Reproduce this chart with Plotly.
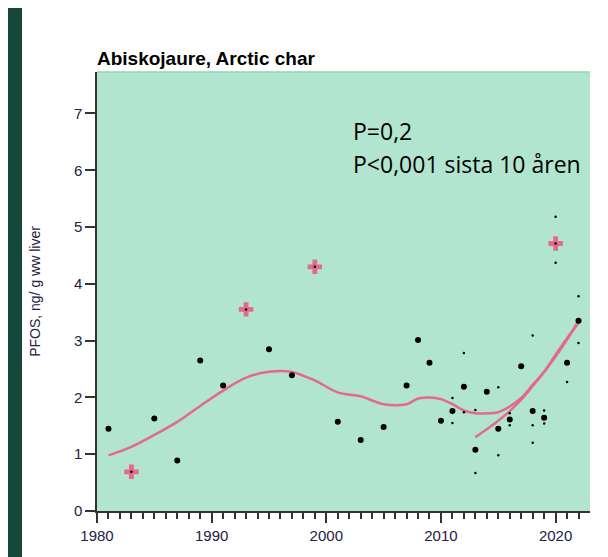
import plotly.graph_objects as go

# Yearly medians (black dots)
years = [1981, 1985, 1987, 1989, 1991, 1995, 1997, 2001, 2003, 2005, 2007, 2008,
         2009, 2010, 2011, 2012, 2013, 2014, 2015, 2016, 2017, 2018, 2019, 2021, 2022]
values = [1.45, 1.63, 0.89, 2.65, 2.21, 2.85, 2.39, 1.57, 1.25, 1.48, 2.21, 3.01,
          2.61, 1.59, 1.76, 2.19, 1.08, 2.10, 1.45, 1.61, 2.55, 1.76, 1.64, 2.61, 3.35]

# Flagged years (pink crosses)
flag_years = [1983, 1993, 1999, 2020]
flag_values = [0.69, 3.55, 4.30, 4.71]

# Small dots (spread within years)
small_years = [2011, 2011, 2012, 2012, 2013, 2013, 2015, 2015, 2016, 2016,
               2018, 2018, 2018, 2019, 2019, 2020, 2020, 2021, 2022, 2022]
small_values = [1.99, 1.55, 2.78, 1.74, 1.78, 0.67, 2.18, 0.98, 1.72, 1.51,
                3.09, 1.51, 1.20, 1.77, 1.54, 5.18, 4.37, 2.27, 2.96, 3.78]

# Smoothed trend (whole period)
smooth_years = [1981, 1983, 1985, 1987, 1989, 1991, 1993, 1995, 1997, 1998, 1999,
                2001, 2003, 2005, 2007, 2008, 2009, 2010, 2011, 2012, 2013, 2014,
                2015, 2016, 2017, 2018, 2019, 2020, 2021, 2022]
smooth_values = [0.98, 1.13, 1.34, 1.57, 1.85, 2.12, 2.35, 2.45, 2.45, 2.38, 2.30,
                 2.09, 2.02, 1.88, 1.88, 1.98, 2.00, 1.97, 1.88, 1.77, 1.72, 1.72,
                 1.74, 1.84, 1.99, 2.22, 2.45, 2.75, 3.04, 3.31]

# Trend for last 10 years
recent_years = [2013, 2014, 2015, 2016, 2017, 2018, 2019, 2020, 2021, 2022]
recent_values = [1.30, 1.44, 1.59, 1.76, 1.96, 2.20, 2.45, 2.72, 3.02, 3.35]

xticks = [1980, 1990, 2000, 2010, 2020]
yticks = [0, 1, 2, 3, 4, 5, 6, 7]

PINK = "#e4698a"
BG = "#b2e5cf"
AX = "#333333"
LBL = "#222244"

# page is offset by the browser's default 8px body margin
OFF = 8
W, H = 608 - OFF, 557 - OFF
L, R, T, B = 97 - OFF, 18, 72 - OFF, 46
PW, PH = W - L - R, H - T - B

fig = go.Figure()
fig.add_trace(go.Scatter(x=smooth_years, y=smooth_values, mode="lines",
                         line=dict(color=PINK, width=2.5, shape="spline"),
                         hoverinfo="skip"))
fig.add_trace(go.Scatter(x=recent_years, y=recent_values, mode="lines",
                         line=dict(color=PINK, width=2.5, shape="spline"),
                         hoverinfo="skip"))
fig.add_trace(go.Scatter(x=small_years, y=small_values, mode="markers",
                         marker=dict(color="black", size=2.5)))
fig.add_trace(go.Scatter(x=years, y=values, mode="markers",
                         marker=dict(color="black", size=6)))
fig.add_trace(go.Scatter(x=flag_years, y=flag_values, mode="markers",
                         marker=dict(color=PINK, size=12, symbol="cross",
                                     line=dict(width=0))))
fig.add_trace(go.Scatter(x=flag_years, y=flag_values, mode="markers",
                         marker=dict(color="black", size=2.5)))

# dark stripe at the left edge of the page (page x 0..22)
fig.add_shape(type="rect", xref="paper", yref="paper", x0=-L / PW, x1=(22 - OFF - L) / PW,
              y0=-B / PH - 0.01, y1=1 + T / PH + 0.01, fillcolor="#15473a",
              line=dict(width=0), layer="below")

fig.add_shape(type="line", xref="paper", yref="paper", x0=0, x1=1, y0=1, y1=1,
              line=dict(color="#8fd6b6", width=1.5))

fig.add_annotation(xref="paper", yref="paper", x=(351 - OFF - L) / PW,
                   y=(H - B - (131 - OFF)) / PH,
                   text="P=0,2", showarrow=False, xanchor="left", yanchor="middle",
                   font=dict(family="Open Sans", size=23, color="black"))
fig.add_annotation(xref="paper", yref="paper", x=(351 - OFF - L) / PW,
                   y=(H - B - (164 - OFF)) / PH,
                   text="P<0,001 sista 10 åren", showarrow=False, xanchor="left",
                   yanchor="middle", font=dict(family="Open Sans", size=23, color="black"))

fig.update_layout(
    width=W, height=H,
    margin=dict(l=L, r=R, t=T, b=B),
    paper_bgcolor="white", plot_bgcolor=BG,
    showlegend=False,
    title=dict(text="<b>Abiskojaure, Arctic char</b>", x=L / W, xanchor="left",
               y=1 - (58 - OFF) / H, yanchor="middle",
               font=dict(family="Arial", size=19, color="black")),
    font=dict(family="Arial", size=15, color=AX),
)
fig.update_xaxes(range=[1980, 2023], tickvals=xticks, ticks="outside", ticklen=10,
                 tickwidth=1.5, tickcolor=AX, showline=True, linecolor=AX, linewidth=1.5,
                 showgrid=False, zeroline=False, automargin=False,
                 tickfont=dict(family="Arial", size=15, color=LBL),
                 minor=dict(tickvals=list(range(1980, 2023)), ticks="outside", ticklen=6,
                            tickwidth=1.5, tickcolor=AX, showgrid=False))
fig.update_yaxes(range=[0, 7.73], tickvals=yticks, ticks="outside", ticklen=10,
                 tickwidth=1.5, tickcolor=AX, showline=True, linecolor=AX, linewidth=1.5,
                 showgrid=False, zeroline=False, automargin=False,
                 tickfont=dict(family="Arial", size=15, color=LBL),
                 title=dict(text="PFOS, ng/ g ww liver", standoff=30,
                            font=dict(family="Arial", size=14, color=LBL)))

fig.write_html("out.html", config={"displayModeBar": False})
